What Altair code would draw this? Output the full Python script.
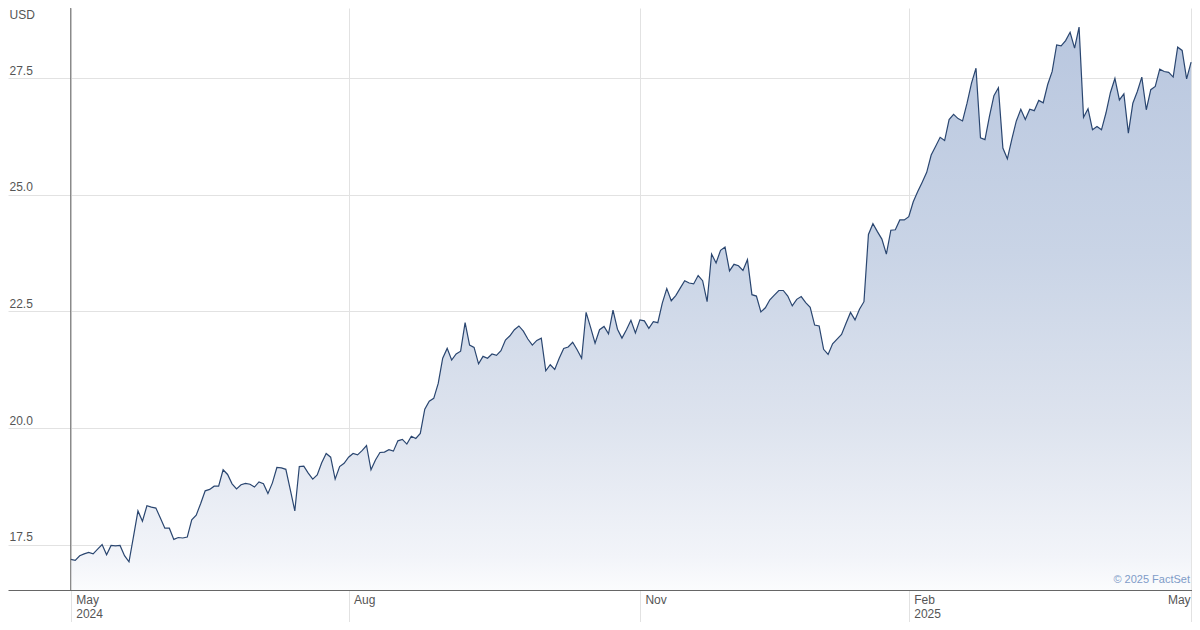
import json
import altair as alt
import pandas as pd

# Daily closing prices (USD), one per trading day
prices = [
    17.19, 17.17, 17.27, 17.31, 17.34, 17.31, 17.41, 17.51, 17.29, 17.49,
    17.48, 17.49, 17.27, 17.14, 17.68, 18.23, 18.01, 18.34, 18.31, 18.29,
    18.08, 17.86, 17.86, 17.62, 17.66, 17.65, 17.67, 18.04, 18.14, 18.39,
    18.66, 18.69, 18.76, 18.76, 19.11, 19.01, 18.81, 18.70, 18.79, 18.82,
    18.80, 18.74, 18.85, 18.81, 18.60, 18.83, 19.16, 19.15, 19.12, 18.68,
    18.23, 19.18, 19.19, 19.04, 18.91, 19.00, 19.26, 19.46, 19.38, 18.91,
    19.18, 19.25, 19.38, 19.46, 19.43, 19.52, 19.63, 19.11, 19.32, 19.48,
    19.49, 19.54, 19.51, 19.73, 19.76, 19.66, 19.83, 19.78, 19.89, 20.41,
    20.58, 20.64, 20.96, 21.50, 21.71, 21.46, 21.59, 21.65, 22.26, 21.78,
    21.73, 21.38, 21.54, 21.50, 21.59, 21.56, 21.66, 21.89, 21.98, 22.11,
    22.19, 22.08, 21.91, 21.78, 21.88, 21.93, 21.23, 21.36, 21.26, 21.50,
    21.71, 21.74, 21.84, 21.68, 21.50, 22.48, 22.16, 21.82, 22.11, 22.18,
    22.02, 22.53, 22.12, 21.93, 22.11, 22.31, 22.04, 22.32, 22.30, 22.14,
    22.28, 22.26, 22.68, 22.99, 22.73, 22.84, 23.00, 23.16, 23.11, 23.09,
    23.27, 23.16, 22.71, 23.73, 23.54, 23.81, 23.88, 23.37, 23.51, 23.48,
    23.38, 23.61, 22.86, 22.83, 22.49, 22.58, 22.75, 22.85, 22.95, 22.95,
    22.83, 22.62, 22.76, 22.82, 22.69, 22.59, 22.21, 22.19, 21.69, 21.58,
    21.81, 21.91, 22.01, 22.25, 22.48, 22.32, 22.55, 22.71, 24.15, 24.38,
    24.21, 24.05, 23.73, 24.24, 24.25, 24.46, 24.46, 24.53, 24.85, 25.07,
    25.27, 25.48, 25.85, 26.04, 26.23, 26.16, 26.61, 26.72, 26.63, 26.58,
    26.96, 27.39, 27.71, 26.22, 26.18, 26.68, 27.12, 27.29, 26.00, 25.77,
    26.19, 26.58, 26.83, 26.61, 26.83, 26.80, 27.02, 26.97, 27.36, 27.64,
    28.21, 28.19, 28.30, 28.48, 28.14, 28.59, 26.66, 26.84, 26.39, 26.46,
    26.39, 26.75, 27.19, 27.49, 27.03, 27.16, 26.32, 26.96, 27.21, 27.52,
    26.82, 27.25, 27.32, 27.69, 27.64, 27.62, 27.52, 28.16, 28.09, 27.48,
    27.84,
]

# Month ticks (trading-day number of the first session of each month)
tick_days = [0, 62, 127, 187, 250]
tick_labels = ["May 2024", "Aug", "Nov", "Feb 2025", "May"]
y_ticks = [17.5, 20.0, 22.5, 25.0, 27.5]
y_range = [16.536, 28.999]
x_range = [-14, 250.2]
currency = "USD"
copyright_text = "\u00a9 2025 FactSet"

df = pd.DataFrame({"day": list(range(len(prices))), "price": prices})

label_expr = " : ".join(
    f"datum.value == {d} ? {json.dumps(l.split(' '))}" for d, l in zip(tick_days, tick_labels)
) + " : ''"

FONT = "Liberation Sans"

x_scale = alt.Scale(domain=x_range, nice=False, zero=False)
y_scale = alt.Scale(domain=y_range, nice=False, zero=False)

x_axis = alt.Axis(
    values=tick_days,
    labelExpr=label_expr,
    title=None,
    grid=True,
    gridColor="#e2e2e2",
    domainColor="#666666",
    domainWidth=1,
    ticks=True,
    tickColor="#e2e2e2",
    tickSize=32,
    labelPadding=-28,
    labelBaseline="top",
    labelAlign={"condition": {"test": "datum.value > 240", "value": "right"}, "value": "left"},
    labelOffset={"condition": {"test": "datum.value > 240", "value": -1}, "value": 5},
    labelLineHeight=14,
    labelFont=FONT,
    labelFontSize=12,
    labelColor="#555555",
    labelOverlap=False,
    labelFlush=False,
)

y_axis = alt.Axis(
    values=y_ticks,
    format=".1f",
    grid=True,
    gridColor="#e2e2e2",
    domain=False,
    ticks=False,
    labelAlign="left",
    labelPadding=-1,
    labelBaseline="bottom",
    labelOffset=-1,
    labelFont=FONT,
    labelFontSize=12,
    labelColor="#555555",
    title=currency,
    titleAngle=0,
    titleAlign="left",
    titleBaseline="top",
    titleX=1,
    titleY=1,
    titleFont=FONT,
    titleFontSize=12,
    titleFontWeight="normal",
    titleColor="#555555",
)

area = alt.Chart(df).mark_area(
    line={"color": "#2a4670", "strokeWidth": 1.2},
    fillOpacity=1,
    color=alt.Gradient(
        gradient="linear",
        stops=[
            alt.GradientStop(color="#b9c7df", offset=0),
            alt.GradientStop(color="#c9d4e6", offset=0.4),
            alt.GradientStop(color="#dde3ee", offset=0.7),
            alt.GradientStop(color="#f2f4f9", offset=0.94),
            alt.GradientStop(color="#fbfcfd", offset=1),
        ],
        x1=0, x2=0, y1=0, y2=1,
    ),
).encode(
    x=alt.X("day:Q", scale=x_scale, axis=x_axis),
    y=alt.Y("price:Q", scale=y_scale, axis=y_axis),
    y2=alt.datum(y_range[0]),
)

start_rule = alt.Chart(df).mark_rule(color="#666666", strokeWidth=1).encode(
    x=alt.X("min(day):Q", scale=x_scale, axis=x_axis)
)

credit = alt.Chart(pd.DataFrame({"t": [copyright_text]})).mark_text(
    align="right", baseline="middle", font=FONT, fontSize=11, color="#7f9cc8"
).encode(text="t:N", x=alt.value(1182), y=alt.value(572))

chart = alt.layer(area, start_rule, credit).properties(
    width=1184,
    height=582,
    padding={"left": 0, "top": 0, "right": 0, "bottom": 32},
    autosize=alt.AutoSizeParams(type="none"),
).configure_view(strokeWidth=0)

chart.save("out.html", embed_options={"renderer": "svg", "actions": False})
